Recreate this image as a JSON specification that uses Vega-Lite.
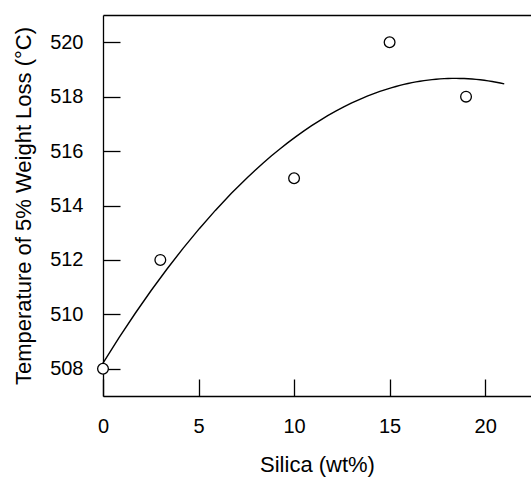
{
  "$schema": "https://vega.github.io/schema/vega-lite/v6.json",
  "width": 428,
  "height": 381,
  "autosize": "none",
  "padding": {"left": 103, "top": 15, "right": 0, "bottom": 82},
  "background": "white",
  "config": {
    "view": {"stroke": null},
    "font": "Liberation Sans",
    "axis": {
      "grid": false,
      "domainColor": "black",
      "domainWidth": 1.3,
      "tickColor": "black",
      "tickWidth": 1.3,
      "tickSize": -17,
      "labelPadding": 37,
      "labelFlush": false,
      "labelColor": "black",
      "labelFontSize": 20,
      "titleColor": "black",
      "titleFontSize": 22,
      "titleFontWeight": "normal"
    }
  },
  "data": {
    "values": [
      {"silica": 0, "temp": 508},
      {"silica": 3, "temp": 512},
      {"silica": 10, "temp": 515},
      {"silica": 15, "temp": 520},
      {"silica": 19, "temp": 518}
    ]
  },
  "resolve": {"axis": {"x": "independent"}},
  "layer": [
    {
      "transform": [
        {"regression": "temp", "on": "silica", "method": "poly", "order": 2, "extent": [0, 21]}
      ],
      "mark": {"type": "line", "color": "black", "strokeWidth": 1.4},
      "encoding": {
        "x": {
          "field": "silica", "type": "quantitative",
          "scale": {"domain": [0, 22.4], "nice": false, "zero": false},
          "axis": {"title": "Silica (wt%)", "values": [0, 5, 10, 15, 20], "titlePadding": 18}
        },
        "y": {
          "field": "temp", "type": "quantitative",
          "scale": {"domain": [507, 521], "nice": false, "zero": false},
          "axis": {"title": "Temperature of 5% Weight Loss (°C)", "values": [508, 510, 512, 514, 516, 518, 520], "titlePadding": 14}
        }
      }
    },
    {
      "mark": {"type": "point", "shape": "circle", "filled": false, "fill": "white", "stroke": "black", "strokeWidth": 1.3, "size": 115, "opacity": 1},
      "encoding": {
        "x": {"field": "silica", "type": "quantitative", "axis": {"orient": "top", "labels": false, "ticks": false, "title": null, "domain": true}},
        "y": {"field": "temp", "type": "quantitative"}
      }
    }
  ]
}
